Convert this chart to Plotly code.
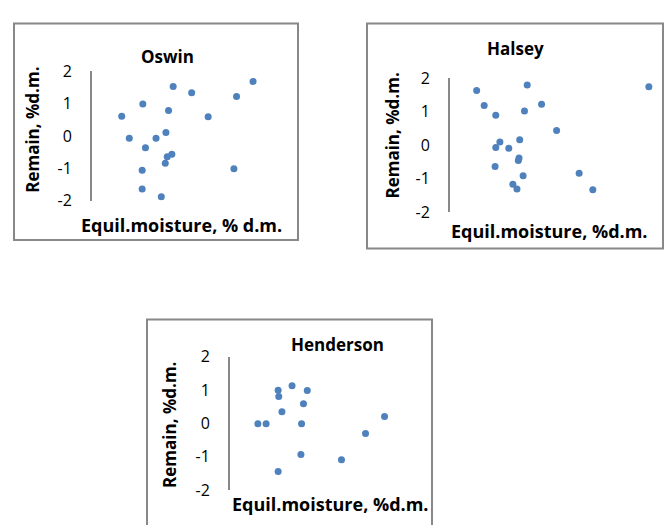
import plotly.graph_objects as go

W, H = 669, 525

# Residuals of three sorption isotherm models vs equilibrium moisture
oswin_x = [4.5, 7.7, 5.65, 8.1, 7.6, 7.6, 10.5, 9.7, 11.2, 11.6, 12.3, 15.1, 17.6, 21.9, 24.4, 21.5, 11.4, 12.1, 11.1]
oswin_y = [0.61, 0.99, -0.07, -0.36, -1.06, -1.64, -1.88, -0.07, 0.11, 0.79, 1.53, 1.34, 0.60, 1.22, 1.69, -1.01, -0.64, -0.56, -0.84]

halsey_x = [3.9, 5.0, 6.7, 11.3, 10.9, 13.4, 15.6, 29.1, 7.3, 6.7, 8.6, 10.2, 10.1, 10.0, 6.6, 10.7, 9.2, 9.8, 18.9, 20.9]
halsey_y = [1.63, 1.18, 0.89, 1.79, 1.02, 1.22, 0.44, 1.74, 0.09, -0.07, -0.09, 0.16, -0.38, -0.46, -0.64, -0.91, -1.17, -1.31, -0.84, -1.33]

henderson_x = [4.4, 5.7, 7.6, 7.7, 8.2, 9.8, 12.2, 11.6, 11.3, 11.2, 7.6, 17.6, 21.4, 24.4]
henderson_y = [-0.01, -0.01, 1.00, 0.81, 0.35, 1.13, 0.99, 0.59, -0.01, -0.93, -1.44, -1.09, -0.30, 0.21]

titles = ["Oswin", "Halsey", "Henderson"]
x_titles = ["Equil.moisture, % d.m.", "Equil.moisture, %d.m.", "Equil.moisture, %d.m."]
y_title = "Remain, %d.m."
y_ticks = [-2, -1, 0, 1, 2]
x_range = [0, 30]
y_range = [-2, 2]

series = [(oswin_x, oswin_y), (halsey_x, halsey_y), (henderson_x, henderson_y)]

# pixel layout of each panel: plot area (left, right, top, bottom), frame box,
# chart title centre, y-title centre, x-title centre
panels = [
    dict(plot=(92, 290, 63, 198), box=(14, 298, 13, 239),
         title=(167, 47), ytitle=(33, 124), xtitle=(181, 223)),
    dict(plot=(450, 655, 70, 210), box=(367, 663, 13, 248),
         title=(515, 39), ytitle=(393, 130), xtitle=(549, 230)),
    dict(plot=(230, 420, 361, 500), box=(147, 432, 322, 540),
         title=(337, 348), ytitle=(170, 432), xtitle=(330, 515)),
]

MARKER = "#4F81BD"
GREY = "#888888"
FONT = "Open Sans"


def fx(px):
    return px / W


def fy(py):
    return 1 - py / H


fig = go.Figure()
shapes = []
annotations = []

for i, (p, (xs, ys)) in enumerate(zip(panels, series)):
    n = "" if i == 0 else str(i + 1)
    l, r, t, b = p["plot"]
    fig.add_trace(go.Scatter(
        x=xs, y=ys, mode="markers", xaxis="x" + n, yaxis="y" + n,
        marker=dict(color=MARKER, size=7), showlegend=False, hoverinfo="x+y",
    ))
    fig.layout["xaxis" + n] = dict(
        domain=[fx(l), fx(r)], range=x_range, anchor="y" + n,
        showline=False, showgrid=False, zeroline=False,
        showticklabels=False, ticks="",
    )
    fig.layout["yaxis" + n] = dict(
        domain=[fy(b), fy(t)], range=y_range, anchor="x" + n,
        tickvals=y_ticks, ticktext=[str(v) for v in y_ticks],
        showline=True, linecolor=GREY, linewidth=2,
        showgrid=False, zeroline=False, ticks="",
        ticklabelstandoff=15,
        tickfont=dict(family=FONT, size=16, color="#000000"),
    )
    bl, br, bt, bb = p["box"]
    shapes.append(dict(
        type="rect", xref="paper", yref="paper",
        x0=fx(bl), x1=fx(br), y0=fy(bb), y1=fy(bt),
        line=dict(color=GREY, width=2), fillcolor="rgba(0,0,0,0)", layer="below",
    ))
    tx, ty = p["title"]
    annotations.append(dict(
        text="<b>%s</b>" % titles[i], xref="paper", yref="paper",
        x=fx(tx), y=fy(ty), xanchor="center", yanchor="middle", showarrow=False,
        font=dict(family=FONT, size=17, color="#000000"),
    ))
    yx, yy = p["ytitle"]
    annotations.append(dict(
        text="<b>%s</b>" % y_title, xref="paper", yref="paper",
        x=fx(yx), y=fy(yy), xanchor="center", yanchor="middle", showarrow=False,
        textangle=-90, font=dict(family=FONT, size=17, color="#000000"),
    ))
    xx, xy = p["xtitle"]
    annotations.append(dict(
        text="<b>%s</b>" % x_titles[i], xref="paper", yref="paper",
        x=fx(xx), y=fy(xy), xanchor="center", yanchor="middle", showarrow=False,
        font=dict(family=FONT, size=18, color="#000000"),
    ))

fig.update_layout(
    width=W, height=H, margin=dict(l=0, r=0, t=0, b=0),
    paper_bgcolor="white", plot_bgcolor="rgba(0,0,0,0)",
    shapes=shapes, annotations=annotations,
)

fig.write_html("out.html")
